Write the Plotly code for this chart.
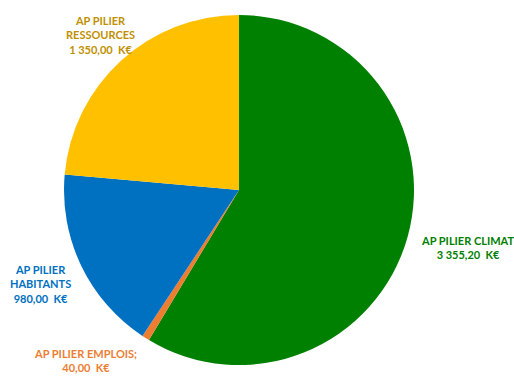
import plotly.graph_objects as go

# Budget per pillar (K€)
categories = ["AP PILIER CLIMAT", "AP PILIER EMPLOIS", "AP PILIER HABITANTS", "AP PILIER RESSOURCES"]
values = [3355.20, 40.00, 980.00, 1350.00]
slice_colors = ["#008000", "#ED7D31", "#0070C0", "#FFC000"]
label_colors = ["#008000", "#ED7D31", "#0070C0", "#BF9000"]


def fr_amount(v):
    whole, dec = f"{v:,.2f}".split(".")
    return whole.replace(",", " ") + "," + dec + "  K€"


W, H = 514, 376

fig = go.Figure(
    go.Pie(
        labels=categories,
        values=values,
        marker=dict(colors=slice_colors, line=dict(width=0)),
        sort=False,
        direction="clockwise",
        rotation=0,
        textinfo="none",
        hoverinfo="label+value",
        showlegend=False,
        domain=dict(x=[64 / W, 414 / W], y=[1 - 365 / H, 1 - 15 / H]),
    )
)

# Outside label text, built from the series
label_text = [
    "AP PILIER CLIMAT<br>" + fr_amount(values[0]),
    "AP PILIER EMPLOIS;<br>" + fr_amount(values[1]),
    "AP PILIER<br>HABITANTS<br>" + fr_amount(values[2]),
    "AP PILIER<br>RESSOURCES<br>" + fr_amount(values[3]),
]
label_pos = [(467, 248), (85, 360), (40, 284), (100, 35)]

for txt, (px, py), col in zip(label_text, label_pos, label_colors):
    fig.add_annotation(
        x=px / W, y=1 - py / H, xref="paper", yref="paper",
        text="<b>" + txt + "</b>", showarrow=False,
        font=dict(family="Lato", size=11, color=col),
        align="center", xanchor="center", yanchor="middle",
    )

fig.update_layout(
    width=W, height=H,
    margin=dict(l=0, r=0, t=0, b=0),
    paper_bgcolor="white", plot_bgcolor="white",
)

fig.write_html("out.html")
